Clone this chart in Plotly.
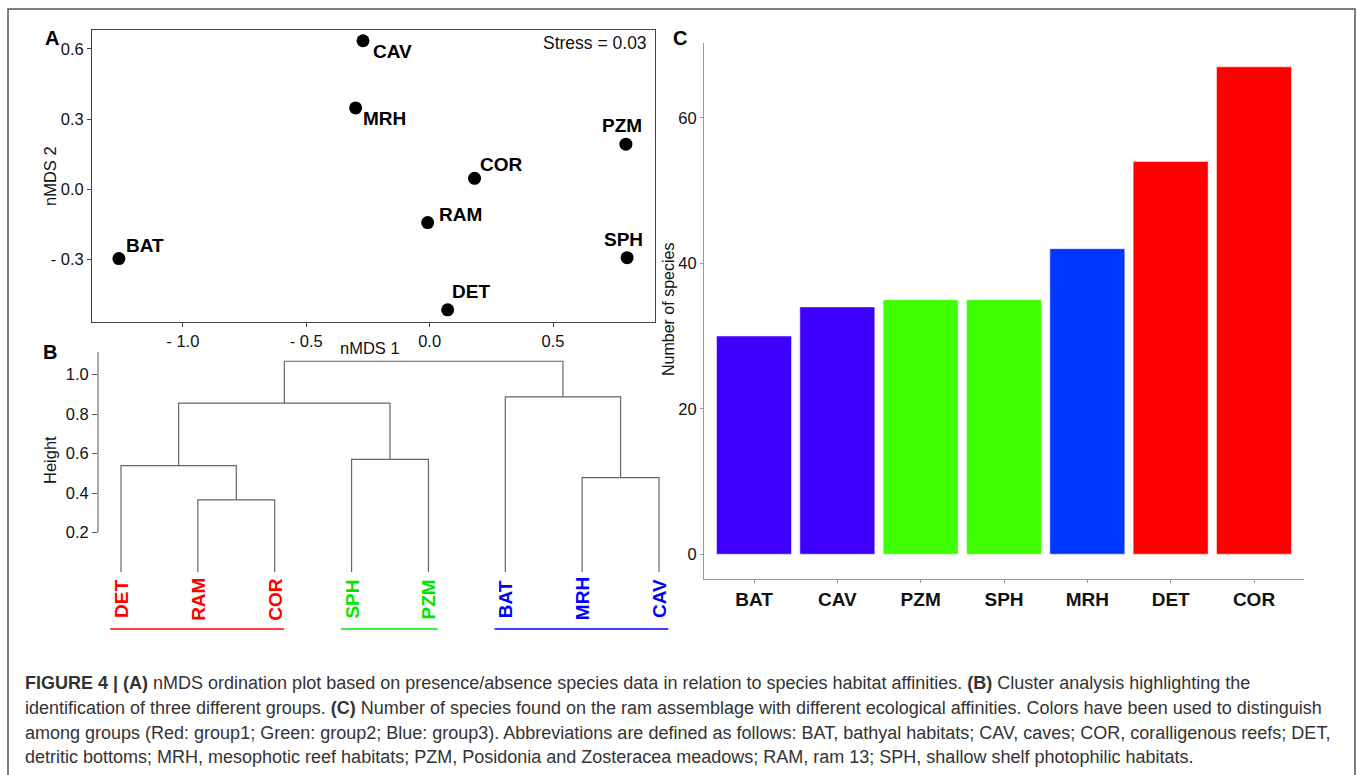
import plotly.graph_objects as go

W, H = 1358, 775

# ---------------- data ----------------
# Panel A: nMDS ordination
nmds_sites = ["CAV", "MRH", "PZM", "COR", "RAM", "BAT", "SPH", "DET"]
nmds1 = [-0.27, -0.30, 0.795, 0.182, -0.008, -1.259, 0.80, 0.073]
nmds2 = [0.635, 0.348, 0.193, 0.047, -0.142, -0.296, -0.292, -0.515]
nmds_xticks = [-1.0, -0.5, 0.0, 0.5]
nmds_xticklabels = ["- 1.0", "- 0.5", "0.0", "0.5"]
nmds_yticks = [-0.3, 0.0, 0.3, 0.6]
nmds_yticklabels = ["- 0.3", "0.0", "0.3", "0.6"]
stress = 0.03

# Panel B: dendrogram (leaf order and merges)
leaf_labels = ["DET", "RAM", "COR", "SPH", "PZM", "BAT", "MRH", "CAV"]
leaf_groups = [1, 1, 1, 2, 2, 3, 3, 3]
# merges: (left member, right member, height); members are leaf names or merge indices
merges = [
    ("RAM", "COR", 0.365),      # m0
    ("DET", 0, 0.539),          # m1
    ("SPH", "PZM", 0.57),       # m2
    ("MRH", "CAV", 0.478),      # m3
    (1, 2, 0.855),              # m4
    ("BAT", 3, 0.887),          # m5
    (4, 5, 1.067),              # m6
]
dend_yticks = [0.2, 0.4, 0.6, 0.8, 1.0]

# Panel C: number of species
habitats = ["BAT", "CAV", "PZM", "SPH", "MRH", "DET", "COR"]
n_species = [30, 34, 35, 35, 42, 54, 67]
bar_colors = ["#3d00ff", "#3d00ff", "#40ff00", "#40ff00", "#0037ff", "#ff0000", "#ff0000"]
species_yticks = [0, 20, 40, 60]

group_colors = {1: "#ff0000", 2: "#00e600", 3: "#0000ff"}

caption_lines = [
    "<b>FIGURE 4 | (A)</b> nMDS ordination plot based on presence/absence species data in relation to species habitat affinities. <b>(B)</b> Cluster analysis highlighting the",
    "identification of three different groups. <b>(C)</b> Number of species found on the ram assemblage with different ecological affinities. Colors have been used to distinguish",
    "among groups (Red: group1; Green: group2; Blue: group3). Abbreviations are defined as follows: BAT, bathyal habitats; CAV, caves; COR, coralligenous reefs; DET,",
    "detritic bottoms; MRH, mesophotic reef habitats; PZM, Posidonia and Zosteracea meadows; RAM, ram 13; SPH, shallow shelf photophilic habitats.",
]

# ---------------- helpers ----------------
FONT = "Liberation Sans, Arial, Helvetica, sans-serif"


def px(x):
    return x / W


def py(y):
    return 1 - y / H


fig = go.Figure()

# ---------------- Panel A ----------------
fig.add_trace(go.Scatter(
    x=nmds1, y=nmds2, mode="markers",
    marker=dict(color="black", size=13),
    xaxis="x", yaxis="y", showlegend=False, hoverinfo="text", text=nmds_sites,
))
# label offsets (pixels): xshift, yshift, xanchor
label_style = {
    "CAV": (8, -11, "left"),
    "MRH": (5, -11, "left"),
    "PZM": (-4, 19, "center"),
    "COR": (3, 14, "left"),
    "RAM": (9, 8, "left"),
    "BAT": (5, 13, "left"),
    "SPH": (-4, 18, "center"),
    "DET": (2, 18, "left"),
}
for s, xv, yv in zip(nmds_sites, nmds1, nmds2):
    dx, dy, xa = label_style[s]
    fig.add_annotation(x=xv, y=yv, xref="x", yref="y", text=f"<b>{s}</b>",
                       showarrow=False, xshift=dx, yshift=dy, xanchor=xa, yanchor="middle",
                       font=dict(family=FONT, size=19, color="black"))

fig.add_annotation(x=px(649), y=py(43), xref="paper", yref="paper", text=f"Stress = {stress}",
                   showarrow=False, xanchor="right", yanchor="middle",
                   font=dict(family=FONT, size=17.5, color="#111"))

# ---------------- Panel B ----------------
leaf_x = {name: i + 1 for i, name in enumerate(leaf_labels)}
node_x, node_h = {}, {}


def member_pos(m):
    if isinstance(m, str):
        return leaf_x[m], 0.0
    return node_x[m], node_h[m]


dx_list, dy_list = [], []
for i, (a, b, h) in enumerate(merges):
    xa, ha = member_pos(a)
    xb, hb = member_pos(b)
    dx_list += [xa, xa, xb, xb, None]
    dy_list += [ha, h, h, hb, None]
    node_x[i] = (xa + xb) / 2
    node_h[i] = h

fig.add_trace(go.Scatter(
    x=dx_list, y=dy_list, mode="lines",
    line=dict(color="#666666", width=1.2),
    xaxis="x2", yaxis="y2", showlegend=False, hoverinfo="skip",
))

for name, g in zip(leaf_labels, leaf_groups):
    fig.add_annotation(x=leaf_x[name], y=py(599), xref="x2", yref="paper",
                       text=f"<b>{name}</b>", textangle=-90, showarrow=False,
                       xanchor="center", yanchor="middle",
                       font=dict(family=FONT, size=19, color=group_colors[g]))

# group underline segments
for g in sorted(set(leaf_groups)):
    members = [leaf_x[n] for n, gg in zip(leaf_labels, leaf_groups) if gg == g]
    fig.add_shape(type="line", xref="x2", yref="paper",
                  x0=min(members) - 0.14, x1=max(members) + 0.12,
                  y0=py(629), y1=py(629),
                  line=dict(color=group_colors[g], width=1.6))

# dendrogram y axis line (from lowest tick to top)
fig.add_shape(type="line", xref="paper", yref="y2",
              x0=px(98), x1=px(98), y0=min(dend_yticks), y1=1.114,
              line=dict(color="#555", width=1))

# ---------------- Panel C ----------------
fig.add_trace(go.Bar(
    x=habitats, y=n_species,
    marker=dict(color=bar_colors, line=dict(color="rgba(255,255,255,0.5)", width=1)),
    xaxis="x3", yaxis="y3", showlegend=False,
))

# ---------------- panel letters and titles ----------------
for letter, xx, yy in [("A", 52, 38), ("B", 50, 352), ("C", 680, 38)]:
    fig.add_annotation(x=px(xx), y=py(yy), xref="paper", yref="paper", text=f"<b>{letter}</b>",
                       showarrow=False, xanchor="center", yanchor="middle",
                       font=dict(family=FONT, size=20, color="black"))

axis_titles = [
    ("nMDS 2", 50, 176, -90, 16.5),
    ("nMDS 1", 370, 348, 0, 16.5),
    ("Height", 50, 460, -90, 16.5),
    ("Number of species", 668, 310, -90, 16),
]
for t, xx, yy, ang, fs in axis_titles:
    fig.add_annotation(x=px(xx), y=py(yy), xref="paper", yref="paper", text=t, textangle=ang,
                       showarrow=False, xanchor="center", yanchor="middle",
                       font=dict(family=FONT, size=fs, color="#111"))

# caption
cap_y = [683, 708, 733, 757]
for line, yy in zip(caption_lines, cap_y):
    fig.add_annotation(x=px(23), y=py(yy), xref="paper", yref="paper", text=line,
                       showarrow=False, xanchor="left", yanchor="middle", align="left",
                       font=dict(family=FONT, size=18, color="#333"))

# outer frame
fig.add_shape(type="rect", xref="paper", yref="paper",
              x0=px(8), x1=px(1355), y0=py(800), y1=py(9),
              line=dict(color="#555", width=1.5), fillcolor="rgba(0,0,0,0)", layer="above")

# ---------------- layout ----------------
# leaf pixel mapping for panel B
leaf_px0, leaf_dpx = 121.0, 76.86
b_left, b_right = 98.0, 680.0
b_top, b_bot = 352.0, 580.0
b_zero, b_scale = 572.0, 197.5

fig.update_layout(
    width=W, height=H,
    margin=dict(l=0, r=0, t=0, b=0),
    paper_bgcolor="white", plot_bgcolor="white",
    font=dict(family=FONT, color="#111"),
    xaxis=dict(domain=[px(92), px(655)], range=[-1.368, 0.913],
               tickvals=nmds_xticks, ticktext=nmds_xticklabels,
               showgrid=False, zeroline=False, showline=True, mirror=True,
               linecolor="#444", linewidth=1, ticks="outside", ticklen=4, tickcolor="#444",
               tickfont=dict(size=16.5, color="#111"), anchor="y"),
    yaxis=dict(domain=[py(322), py(30)], range=[-0.567, 0.681],
               tickvals=nmds_yticks, ticktext=nmds_yticklabels,
               showgrid=False, zeroline=False, showline=True, mirror=True,
               linecolor="#444", linewidth=1, ticks="outside", ticklen=4, tickcolor="#444",
               tickfont=dict(size=16.5, color="#111"), anchor="x"),
    xaxis2=dict(domain=[px(b_left), px(b_right)],
                range=[(b_left - leaf_px0) / leaf_dpx + 1, (b_right - leaf_px0) / leaf_dpx + 1],
                showgrid=False, zeroline=False, showline=False, showticklabels=False, ticks="",
                anchor="y2"),
    yaxis2=dict(domain=[py(b_bot), py(b_top)],
                range=[(b_zero - b_bot) / b_scale, (b_zero - b_top) / b_scale],
                tickvals=dend_yticks, ticktext=[f"{v:.1f}" for v in dend_yticks],
                showgrid=False, zeroline=False, showline=False,
                ticks="outside", ticklen=5, tickcolor="#555",
                tickfont=dict(size=16.5, color="#111"), anchor="x2"),
    xaxis3=dict(domain=[px(704), px(1304)], range=[-0.6, 6.6], type="category",
                categoryorder="array", categoryarray=habitats,
                tickvals=habitats, ticktext=[f"<b>{h}</b>" for h in habitats],
                showgrid=False, zeroline=False, showline=True, linecolor="#999", linewidth=1.2,
                ticks="outside", ticklen=3, tickcolor="#999",
                tickfont=dict(size=19, color="#111", family=FONT), anchor="y3"),
    yaxis3=dict(domain=[py(578.6), py(42.5)], range=[-3.35, 70.35],
                tickvals=species_yticks,
                showgrid=False, zeroline=False, showline=True, linecolor="#999", linewidth=1.2,
                ticks="outside", ticklen=3, tickcolor="#999",
                tickfont=dict(size=16.5, color="#111"), anchor="x3"),
    bargap=0.1,
)

fig.write_html(
    "out.html",
    config={"displayModeBar": False},
    post_script="document.body.style.margin='0';document.body.style.overflow='hidden';",
)
